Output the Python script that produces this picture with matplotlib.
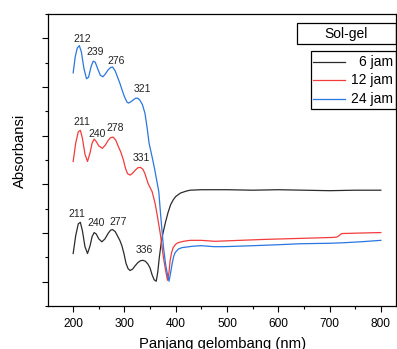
import matplotlib.pyplot as plt
from matplotlib.patches import Rectangle
from matplotlib.ticker import MultipleLocator

plt.rcParams['font.family'] = ['Liberation Sans', 'DejaVu Sans']

# UV-Vis spectra (absorbance in arbitrary units, curves offset)
wl_6 = [200, 205, 210, 214, 218, 223, 228, 233, 237, 241, 245, 250, 256, 262, 268, 273, 277,
        282, 287, 291, 295, 299, 303, 307, 311, 316, 321, 326, 331, 336, 341, 346, 350, 354,
        358, 362, 365, 368, 372, 375, 380, 385, 390, 395, 400, 409, 420, 428, 450, 500, 550,
        600, 650, 700, 750, 800]
abs_6 = [0.58, 0.95, 1.19, 1.22, 1.05, 0.72, 0.58, 0.74, 0.93, 1.01, 0.98, 0.88, 0.82, 0.88,
         0.99, 1.06, 1.07, 1.03, 0.93, 0.85, 0.74, 0.58, 0.38, 0.27, 0.23, 0.26, 0.33, 0.39,
         0.43, 0.44, 0.42, 0.36, 0.28, 0.14, 0.04, 0.01, 0.20, 0.50, 0.82, 0.99, 1.22, 1.42,
         1.58, 1.68, 1.75, 1.82, 1.86, 1.88, 1.89, 1.89, 1.88, 1.89, 1.88, 1.87, 1.88, 1.88]

wl_12 = [200, 205, 210, 214, 218, 223, 228, 233, 237, 241, 245, 250, 257, 263, 268, 273, 278,
         283, 288, 293, 298, 302, 306, 311, 316, 321, 326, 331, 336, 340, 346, 354, 360, 365,
         370, 376, 380, 384, 387, 389, 392, 395, 400, 404, 415, 428, 450, 477, 500, 525, 575,
         642, 707, 715, 724, 760, 800]
abs_12 = [2.47, 2.85, 3.08, 3.11, 2.95, 2.62, 2.47, 2.65, 2.85, 2.93, 2.88, 2.79, 2.74, 2.81,
          2.90, 2.96, 2.97, 2.91, 2.78, 2.66, 2.50, 2.33, 2.22, 2.19, 2.23, 2.29, 2.34, 2.35,
          2.31, 2.22, 2.02, 1.85, 1.60, 1.30, 0.98, 0.50, 0.25, 0.03, 0.20, 0.43, 0.60, 0.70,
          0.77, 0.80, 0.83, 0.85, 0.85, 0.83, 0.84, 0.85, 0.87, 0.89, 0.91, 0.92, 0.99, 1.00,
          1.01]

wl_24 = [200, 204, 208, 212, 216, 221, 226, 230, 235, 239, 243, 248, 253, 258, 263, 268, 273,
         277, 282, 287, 291, 295, 300, 305, 308, 313, 318, 322, 326, 330, 335, 340, 344, 348,
         354, 358, 363, 367, 370, 373, 376, 380, 383, 387, 390, 393, 396, 399, 405, 412, 434,
         450, 475, 493, 550, 600, 642, 700, 726, 760, 800]
abs_24 = [4.29, 4.62, 4.80, 4.85, 4.72, 4.38, 4.17, 4.20, 4.42, 4.53, 4.51, 4.37, 4.24, 4.21,
          4.27, 4.35, 4.40, 4.41, 4.33, 4.19, 4.08, 3.95, 3.80, 3.69, 3.67, 3.70, 3.74, 3.77,
          3.77, 3.73, 3.64, 3.46, 3.18, 2.85, 2.56, 2.36, 2.08, 1.85, 1.45, 1.08, 0.72, 0.38,
          0.20, 0.01, 0.18, 0.37, 0.52, 0.60, 0.67, 0.70, 0.73, 0.74, 0.72, 0.72, 0.74, 0.76,
          0.78, 0.79, 0.80, 0.82, 0.85]

series_labels = ['6 jam', '12 jam', '24 jam']
colors = ['#2b2b2b', '#f23c3c', '#2a76e0']

# peak labels: (text, x, y)
peaks_6 = [('211', 208, 1.40), ('240', 245, 1.20), ('277', 288, 1.22), ('336', 339, 0.66)]
peaks_12 = [('211', 217, 3.28), ('240', 247, 3.03), ('278', 282, 3.15), ('331', 333, 2.54)]
peaks_24 = [('212', 217, 4.99), ('239', 243, 4.72), ('276', 284, 4.54), ('321', 335, 3.96)]

fig = plt.figure(figsize=(3.97, 3.49), dpi=100)
ax = fig.add_axes([0.121, 0.123, 0.877, 0.837])

for wl, ab, c in zip([wl_6, wl_12, wl_24], [abs_6, abs_12, abs_24], colors):
    ax.plot(wl, ab, color=c, lw=0.9)

for peaks in [peaks_6, peaks_12, peaks_24]:
    for txt, x, y in peaks:
        ax.text(x, y, txt, fontsize=7.5, ha='center', va='center', color='#222222')

ax.set_xlim(151, 830)
ax.set_ylim(-0.5, 5.5)
ax.xaxis.set_major_locator(MultipleLocator(100))
ax.xaxis.set_minor_locator(MultipleLocator(50))
ax.yaxis.set_major_locator(MultipleLocator(1))
ax.yaxis.set_minor_locator(MultipleLocator(0.5))
ax.set_xticks(range(200, 801, 100))
ax.tick_params(which='major', direction='out', length=4, width=0.8, labelsize=8.6, pad=4.5)
ax.tick_params(which='minor', direction='out', length=2.5, width=0.8)
ax.tick_params(axis='y', labelleft=False)
for s in ax.spines.values():
    s.set_linewidth(0.9)

ax.set_xlabel('Panjang gelombang (nm)', fontsize=10.7, labelpad=5)
ax.set_ylabel('Absorbansi', fontsize=10.7, labelpad=9)
ax.yaxis.label.set_y(0.533)

# title box and legend, drawn in axes coordinates
ax.add_patch(Rectangle((0.716, 0.897), 0.282, 0.072, transform=ax.transAxes,
                       fill=False, lw=0.9, edgecolor='black', clip_on=False))
ax.text(0.856, 0.933, 'Sol-gel', transform=ax.transAxes, fontsize=10,
        ha='center', va='center')
ax.add_patch(Rectangle((0.756, 0.675), 0.242, 0.198, transform=ax.transAxes,
                       fill=False, lw=0.9, edgecolor='black', clip_on=False))
for i, (lab, c) in enumerate(zip(series_labels, colors)):
    yy = 0.836 - i * 0.0635
    ax.plot([0.762, 0.853], [yy, yy], color=c, lw=0.9, transform=ax.transAxes)
    ax.text(0.99, yy, lab, transform=ax.transAxes, fontsize=10, ha='right', va='center')

fig.savefig('out.png', dpi=100)
